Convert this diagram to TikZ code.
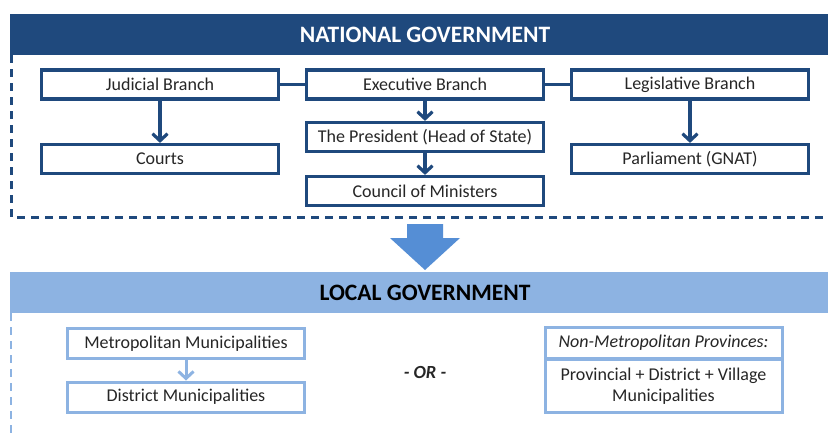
\documentclass[tikz,border=0pt]{standalone}
\usepackage{fontspec}
\setmainfont{Carlito}
\usetikzlibrary{arrows.meta}
\definecolor{dblue}{HTML}{1F497D}
\definecolor{lblue}{HTML}{8DB3E2}
\definecolor{mblue}{HTML}{558ED5}
\begin{document}
\begin{tikzpicture}[x=1pt,y=-1pt,
  box/.style={draw=dblue,line width=3.2pt,fill=white,minimum width=237pt,minimum height=29pt,inner sep=0pt,font=\fontsize{18}{20}\selectfont,text=black!85},
  lbox/.style={draw=lblue,line width=3pt,fill=white,minimum width=237pt,minimum height=30pt,inner sep=0pt,font=\fontsize{18}{20}\selectfont,text=black!85},
  conn/.style={draw=dblue,line width=3.2pt},
  arr/.style={conn,-{Straight Barb[length=7pt,width=15pt,line width=3.2pt]}},
  larr/.style={draw=lblue,line width=3pt,-{Straight Barb[length=7pt,width=15pt,line width=3pt]}}]
\useasboundingbox (0,0) rectangle (828,434);
\fill[white] (0,0) rectangle (828,434);
% national header
\fill[dblue] (10,14) rectangle (828,55);
\node[text=white,font=\fontsize{23.5}{26}\selectfont\bfseries] (nat) at (425,35) {NATIONAL GOVERNMENT};
\draw[dblue,line width=3pt,dash pattern=on 8pt off 6pt] (11,55) -- (11,217) -- (828,217);
% boxes
\node[box] (jud) at (160,84.5) {Judicial Branch};
\node[box] (exe) at (425,84.5) {Executive Branch};
\node[box] (leg) at (690,84.5) {Legislative Branch};
\node[box] (cou) at (160,159) {Courts};
\node[box] (pre) at (425,137) {The President (Head of State)};
\node[box] (com) at (425,191) {Council of Ministers};
\node[box] (par) at (690,159) {Parliament (GNAT)};
\draw[conn] (jud.east) -- (exe.west);
\draw[conn] (exe.east) -- (leg.west);
\draw[arr] (jud.south) -- (cou.north);
\draw[arr] (exe.south) -- (pre.north);
\draw[arr] (pre.south) -- (com.north);
\draw[arr] (leg.south) -- (par.north);
% big arrow
\fill[mblue] (407,224) -- (443,224) -- (443,238) -- (460,238) -- (425,270) -- (390,238) -- (407,238) -- cycle;
% local header
\fill[lblue] (10,272) rectangle (828,313);
\node[text=black,font=\fontsize{23.5}{26}\selectfont\bfseries] (loc) at (425,293) {LOCAL GOVERNMENT};
\draw[lblue,line width=2.6pt,dash pattern=on 8pt off 6pt] (11,313) -- (11,434);
% local boxes
\node[lbox] (met) at (186,343.5) {Metropolitan Municipalities};
\node[lbox] (dis) at (186,397) {District Municipalities};
\draw[larr] (met.south) -- (dis.north);
\node[font=\fontsize{18.5}{20}\selectfont\bfseries\itshape,text=black!85] (or) at (425,372) {- OR -};
\node[lbox,minimum height=31pt] (nmp) at (663.5,343) {\itshape Non-Metropolitan Provinces:};
\node[lbox,minimum height=53pt,align=center] (pdv) at (663.5,386) {Provincial + District + Village\\[1pt]Municipalities};
\end{tikzpicture}
\end{document}
